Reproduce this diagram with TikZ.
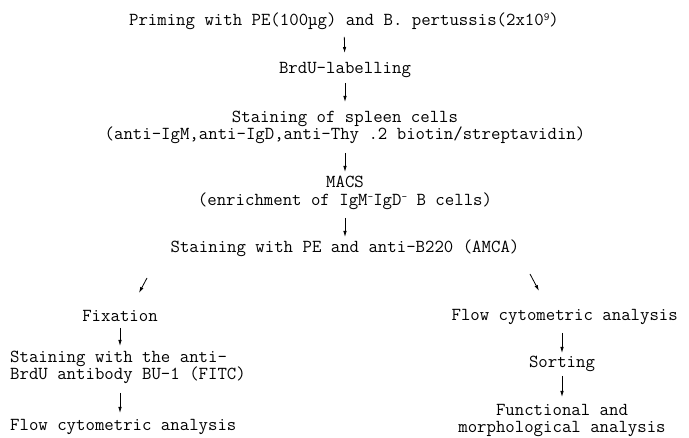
\documentclass[tikz,border=0pt]{standalone}
\usepackage{fontspec}
\usetikzlibrary{arrows.meta}
\tikzset{stage/.style={font=\fontsize{18.3}{17.5}\selectfont\ttfamily, align=center, inner sep=0pt}}
\tikzset{flow/.style={-{Latex[length=6pt, width=3.5pt]}, line width=0.8pt}}
\newcommand{\sups}[1]{\raisebox{0.6ex}{\fontsize{11}{11}\selectfont #1}}

\begin{document}
\begin{tikzpicture}[x=1pt, y=-1pt]
            \useasboundingbox (0, 0) rectangle (689, 438);
            \node[stage] (priming) at (344, 21) {Priming with PE(100µg) and B. pertussis(2x10\sups{9})};
            \node[stage] (labelling) at (345, 70) {BrdU-labelling};
            \node[stage] (spleen) at (345, 127.5) {Staining of spleen cells\\(anti-IgM,anti-IgD,anti-Thy .2 biotin/streptavidin)};
            \node[stage] (macs) at (345, 193) {MACS\\(enrichment of IgM\sups{-}IgD\sups{-} B cells)};
            \node[stage] (amca) at (345, 248) {Staining with PE and anti-B220 (AMCA)};
            \node[stage] (fixation) at (120, 316) {Fixation};
            \node[stage, align=left, anchor=west] (bu1) at (10, 367.5) {Staining with the anti-\\BrdU antibody BU-1 (FITC)};
            \node[stage, anchor=west] (flowleft) at (10, 427) {Flow cytometric analysis};
            \node[stage, anchor=east] (flowright) at (678, 317) {Flow cytometric analysis};
            \node[stage] (sorting) at (562, 364) {Sorting};
            \node[stage] (morpho) at (562, 420.5) {Functional and\\morphological analysis};
            \coordinate (splitleft) at (147, 278);
            \coordinate (tipleft) at (139, 293);
            \coordinate (splitright) at (530, 274);
            \coordinate (tipright) at (539, 291);
            \draw[flow, shorten <=16pt, shorten >=17pt] (priming.center) -- (labelling.center);
            \draw[flow, shorten <=13pt, shorten >=25.5pt] (labelling.center) -- (spleen.center);
            \draw[flow, shorten <=25.5pt, shorten >=21pt] (spleen.center) -- (macs.center);
            \draw[flow, shorten <=25pt, shorten >=11pt] (macs.center) -- (amca.center);
            \draw[flow] (splitleft) -- (tipleft);
            \draw[flow] (splitright) -- (tipright);
            \draw[flow, shorten <=12pt, shorten >=21.5pt] (fixation.center) -- (fixation |- bu1.center);
            \draw[flow, shorten <=25.5pt, shorten >=14pt] (bu1.center -| fixation.center) -- (flowleft.center -| fixation.center);
            \draw[flow, shorten <=16pt, shorten >=11pt] (sorting |- flowright.center) -- (sorting.center);
            \draw[flow, shorten <=12pt, shorten >=23.5pt] (sorting.center) -- (morpho.center);
\end{tikzpicture}
\end{document}
